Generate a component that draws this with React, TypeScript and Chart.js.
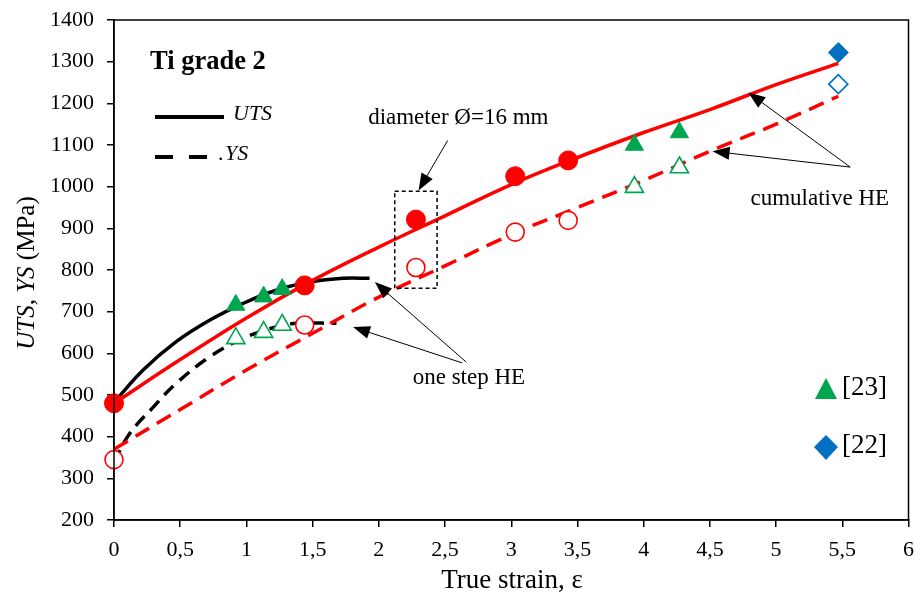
import React, { useEffect, useRef } from 'react';
import { Chart, registerables } from 'chart.js';
Chart.register(...registerables);

// ---- data ----
const cumX = [0, 0.5, 1, 1.5, 2, 2.5, 3, 3.5, 4, 4.5, 5, 5.47];
const utsCumY = [480, 585, 685, 775, 855, 930, 1005, 1070, 1130, 1185, 1245, 1296];
const ysCumY = [370, 465, 560, 648, 735, 810, 885, 950, 1015, 1085, 1150, 1217];

const utsOneX = [0, 0.22, 0.47, 0.725, 0.976, 1.23, 1.48, 1.73, 1.93];
const utsOneY = [482, 560, 628, 680, 720, 752, 771, 780, 780];
const ysOneX = [0, 0.12, 0.3, 0.47, 0.725, 0.976, 1.23, 1.38, 1.68];
const ysOneY = [340, 408, 472, 528, 592, 636, 664, 672, 672];

const heX = [0, 1.44, 2.28, 3.03, 3.43];
const utsHE = [480, 763, 921, 1025, 1063];
const ysHE = [345, 668, 806, 891, 919];

const ref23X = [0.92, 1.13, 1.27, 3.93, 4.27];
const ref23UTS = [716, 736, 754, 1100, 1130];
const ref23YS = [636, 651, 668, 999, 1046];

const ref22X = [5.47];
const ref22UTS = [1322];
const ref22YS = [1246];

const xTickStep = 0.5;
const yTickStep = 100;

const RED = '#ff0000';
const GREEN = '#00a550';
const BLUE = '#0070c0';
const FONT = '"Liberation Serif", "Times New Roman", serif';

const pts = (xs: number[], ys: number[]) => xs.map((x, i) => ({ x, y: ys[i] }));

function arrow(ctx: CanvasRenderingContext2D, x1: number, y1: number, x2: number, y2: number) {
  const ang = Math.atan2(y2 - y1, x2 - x1);
  const L = 17, W = 6.5;
  ctx.beginPath();
  ctx.moveTo(x1, y1);
  ctx.lineTo(x2 - Math.cos(ang) * L * 0.8, y2 - Math.sin(ang) * L * 0.8);
  ctx.stroke();
  ctx.beginPath();
  ctx.moveTo(x2, y2);
  ctx.lineTo(x2 - Math.cos(ang) * L - Math.sin(ang) * W, y2 - Math.sin(ang) * L + Math.cos(ang) * W);
  ctx.lineTo(x2 - Math.cos(ang) * L + Math.sin(ang) * W, y2 - Math.sin(ang) * L - Math.cos(ang) * W);
  ctx.closePath();
  ctx.fill();
}

const annotPlugin = {
  id: 'annot',
  afterDraw(chart: any) {
    const { ctx, chartArea: a, scales } = chart;
    const X = (v: number) => scales.x.getPixelForValue(v);
    const Y = (v: number) => scales.y.getPixelForValue(v);
    ctx.save();
    // frame
    ctx.strokeStyle = '#000';
    ctx.lineWidth = 1.5;
    ctx.strokeRect(a.left, a.top, a.right - a.left, a.bottom - a.top);

    // axis titles
    ctx.fillStyle = '#000';
    ctx.textBaseline = 'middle';
    ctx.textAlign = 'center';
    ctx.font = `27px ${FONT}`;
    ctx.fillText('True strain, ε', 512, 581);

    // y title mixed italic
    ctx.save();
    ctx.translate(27, 273);
    ctx.rotate(-Math.PI / 2);
    const parts: [string, boolean][] = [['UTS', true], [', ', false], ['YS', true], [' (MPa)', false]];
    let total = 0;
    parts.forEach(([t, it]) => { ctx.font = `${it ? 'italic ' : ''}25px ${FONT}`; total += ctx.measureText(t).width; });
    let cx = -total / 2;
    ctx.textAlign = 'left';
    parts.forEach(([t, it]) => { ctx.font = `${it ? 'italic ' : ''}25px ${FONT}`; ctx.fillText(t, cx, 0); cx += ctx.measureText(t).width; });
    ctx.restore();

    // top-left legend
    ctx.textAlign = 'left';
    ctx.textBaseline = 'alphabetic';
    ctx.font = `bold 26.5px ${FONT}`;
    ctx.fillText('Ti grade 2', 150, 69);
    ctx.lineWidth = 4;
    ctx.beginPath(); ctx.moveTo(155, 117); ctx.lineTo(224, 117); ctx.stroke();
    ctx.beginPath(); ctx.moveTo(155, 157); ctx.lineTo(173, 157); ctx.moveTo(189, 157); ctx.lineTo(207, 157); ctx.stroke();
    ctx.font = `italic 22px ${FONT}`;
    ctx.textBaseline = 'middle';
    ctx.fillText('UTS', 233, 114);
    ctx.font = `22px ${FONT}`;
    ctx.fillText('.', 218, 154);
    ctx.font = `italic 22px ${FONT}`;
    ctx.fillText('YS', 225, 154);

    // right legend
    ctx.fillStyle = GREEN;
    ctx.beginPath();
    ctx.moveTo(826, 378); ctx.lineTo(837, 399); ctx.lineTo(815, 399); ctx.closePath(); ctx.fill();
    ctx.fillStyle = BLUE;
    ctx.beginPath();
    ctx.moveTo(826, 435); ctx.lineTo(838, 447); ctx.lineTo(826, 460); ctx.lineTo(814, 447); ctx.closePath(); ctx.fill();
    ctx.fillStyle = '#000';
    ctx.font = `27px ${FONT}`;
    ctx.fillText('[23]', 842, 388);
    ctx.fillText('[22]', 842, 446);

    // annotations
    ctx.lineWidth = 1;
    ctx.strokeStyle = '#000';
    ctx.fillStyle = '#000';
    ctx.font = `23px ${FONT}`;
    ctx.textAlign = 'center';
    ctx.fillText('diameter Ø=16 mm', X(2.6), Y(1166));
    ctx.fillText('one step HE', X(2.68), Y(541));
    ctx.fillText('cumulative HE', X(5.33), Y(970));
    arrow(ctx, X(2.52), Y(1111), X(2.3), Y(991));
    arrow(ctx, X(2.66), Y(579), X(1.97), Y(771));
    arrow(ctx, X(2.63), Y(577), X(1.805), Y(663));
    arrow(ctx, X(5.56), Y(1047), X(4.79), Y(1226));
    arrow(ctx, X(5.56), Y(1047), X(4.52), Y(1085));
    ctx.setLineDash([4, 3]);
    ctx.lineWidth = 1.5;
    ctx.strokeRect(X(2.12), Y(989), X(2.44) - X(2.12), Y(756) - Y(989));
    ctx.restore();
  },
};

export default function App() {
  const ref = useRef<HTMLCanvasElement>(null);
  useEffect(() => {
    document.body.style.margin = '0';
    const lineDs = (data: any, color: string, dash: number[]) => ({
      data, showLine: true, borderColor: color, borderWidth: 3.5, borderDash: dash,
      pointRadius: 0, tension: 0.4, order: 2, fill: false, clip: false,
    });
    const ptDs = (data: any, style: string, color: string, filled: boolean, r: number) => ({
      data, showLine: false, pointStyle: style, pointRadius: r, pointHoverRadius: r,
      pointBackgroundColor: filled ? color : '#ffffff', pointBorderColor: color,
      pointBorderWidth: filled ? 1 : 1.6, order: 1, clip: false,
    });
    const chart = new Chart(ref.current!, {
      type: 'scatter',
      data: {
        datasets: [
          lineDs(pts(cumX, utsCumY), RED, []),
          lineDs(pts(cumX, ysCumY), RED, [16, 9]),
          lineDs(pts(utsOneX, utsOneY), '#000', []),
          lineDs(pts(ysOneX, ysOneY), '#000', [13, 8]),
          ptDs(pts(heX, utsHE), 'circle', RED, true, 9.5),
          ptDs(pts(heX, ysHE), 'circle', RED, false, 9),
          ptDs(pts(ref23X, ref23UTS), 'triangle', GREEN, true, 10.5),
          ptDs(pts(ref23X, ref23YS), 'triangle', GREEN, false, 10.5),
          ptDs(pts(ref22X, ref22UTS), 'rectRot', BLUE, true, 10),
          ptDs(pts(ref22X, ref22YS), 'rectRot', BLUE, false, 9.5),
        ] as any,
      },
      options: {
        responsive: false,
        animation: false,
        layout: { autoPadding: false, padding: { top: 20, right: 7.5, left: 0, bottom: 0 } },
        plugins: { legend: { display: false }, tooltip: { enabled: false } },
        scales: {
          x: {
            type: 'linear', min: 0, max: 6,
            afterFit: (s: any) => { s.height = 76; s.paddingRight = 0; s.paddingLeft = 0; },
            ticks: {
              stepSize: xTickStep, color: '#000', padding: 10,
              font: { family: FONT, size: 22 },
              callback: (v: any) => String(v).replace('.', ','),
            },
            grid: { drawOnChartArea: false, tickLength: 7, color: '#000', lineWidth: 1.5 },
            border: { color: '#000', width: 1.5 },
          },
          y: {
            type: 'linear', min: 200, max: 1400,
            afterFit: (s: any) => { s.width = 114; s.paddingTop = 0; s.paddingBottom = 0; },
            ticks: {
              stepSize: yTickStep, color: '#000', padding: 13, font: { family: FONT, size: 22 },
              callback: (v: any) => String(v),
            },
            grid: { drawOnChartArea: false, tickLength: 7, color: '#000', lineWidth: 1.5 },
            border: { color: '#000', width: 1.5 },
          },
        },
      },
      plugins: [annotPlugin],
    });
    return () => chart.destroy();
  }, []);
  return (
    <div style={{ width: 916, height: 596, background: '#fff' }}>
      <canvas ref={ref} width={916} height={596} />
    </div>
  );
}
